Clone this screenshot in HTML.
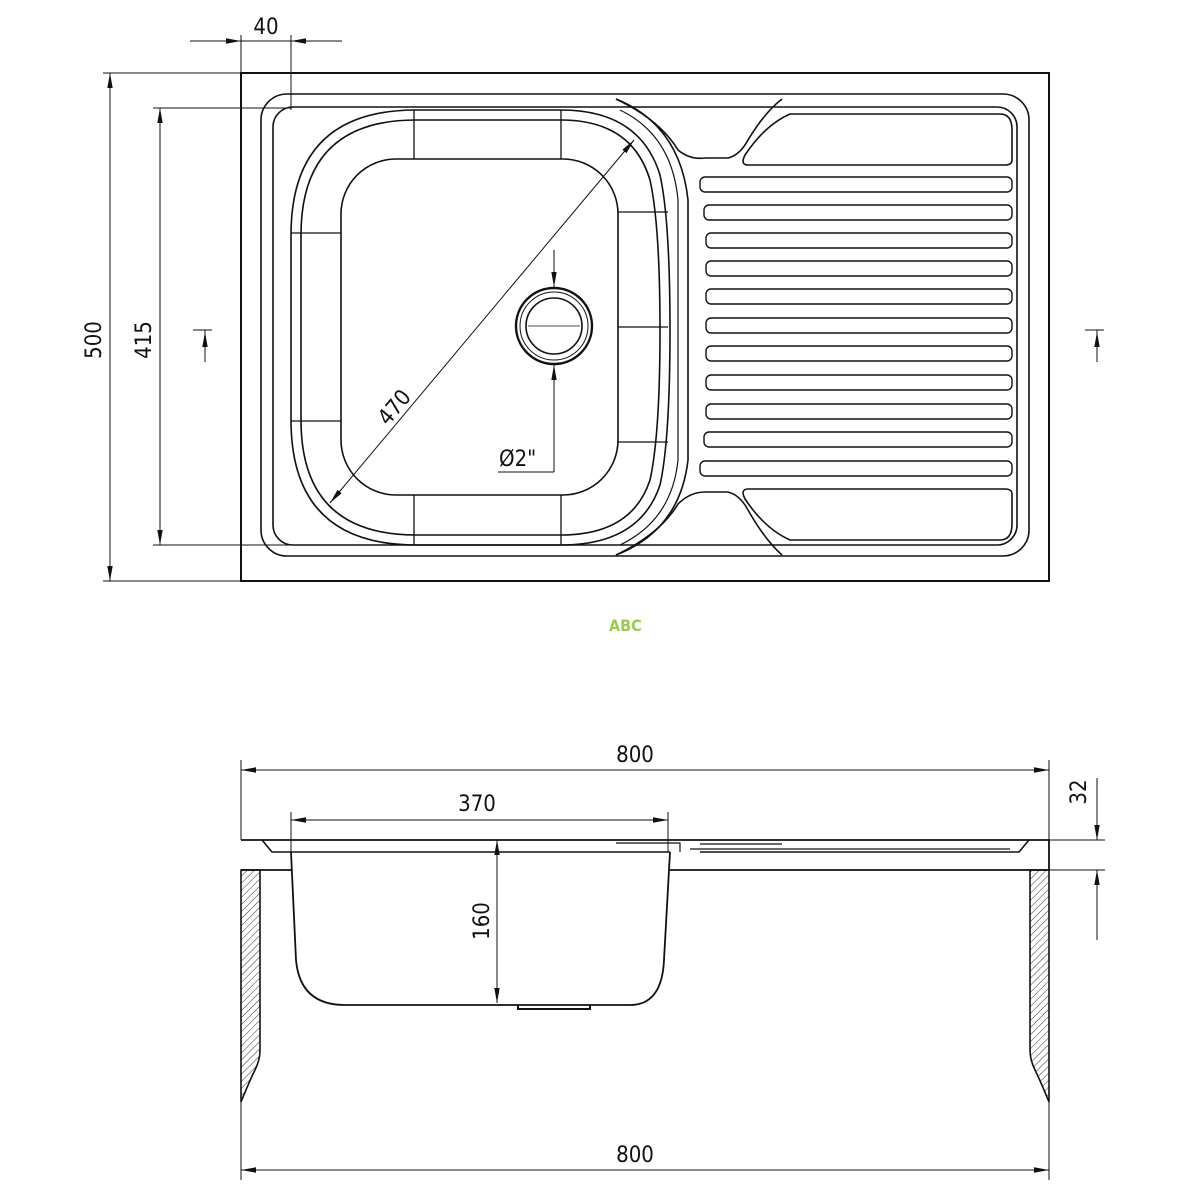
<!DOCTYPE html>
<html><head><meta charset="utf-8"><style>
html,body{margin:0;padding:0;background:#fff}
svg{display:block}
text{font-family:"DejaVu Sans Condensed","Liberation Sans",sans-serif;font-size:22px;fill:#111}
</style></head><body>
<svg width="1200" height="1200" viewBox="0 0 1200 1200" xmlns="http://www.w3.org/2000/svg">
<defs>
<marker id="a" viewBox="0 0 15 6" refX="15" refY="3" markerWidth="15" markerHeight="6" markerUnits="userSpaceOnUse" orient="auto-start-reverse"><path d="M0,0.3 L15,3 L0,5.7z" fill="#111"/></marker>
<pattern id="h" width="5" height="5" patternUnits="userSpaceOnUse" patternTransform="rotate(45)"><line x1="0" y1="0" x2="0" y2="5" stroke="#333" stroke-width="1"/></pattern>
</defs>
<g fill="none" stroke="#111" stroke-width="1.6">
<rect x="241" y="73" width="808" height="508" stroke-width="2"/>
<rect x="261" y="94" width="768" height="462" rx="26"/>
<rect x="273" y="107" width="744" height="438" rx="20"/>
<path d="M416,110 H561 Q640,110 660,175 Q670,220 670,330 Q670,440 660,485 Q640,545 561,545 H416 Q291,545 291,420 V235 Q291,110 416,110Z"/>
<path d="M416,120 H561 Q632,120 650,180 Q660,225 660,330 Q660,435 650,480 Q632,535 561,535 H416 Q301,535 301,420 V235 Q301,120 416,120Z"/>
<rect x="341" y="159" width="277" height="336" rx="55"/>
<path d="M414,110V159M561,110V159M414,495V545M561,495V545M291,233H341M291,421H341M618,212H668M618,327H668M618,442H668" stroke-width="1.3"/>
<path d="M616,99 Q680,125 688,200 V460 Q680,530 616,555"/>
<path d="M620,110 Q672,135 678,200 V460 Q672,520 620,545" stroke-width="1.2"/>
<path d="M616,99 Q660,120 678,150 Q690,160 705,158 H728 Q740,155 748,140 Q765,112 782,99"/>
<path d="M616,555 Q660,534 678,504 Q690,492 705,492 H728 Q740,495 748,510 Q765,540 782,555"/>
<path d="M790,114 H1000 Q1012,114 1012,130 V160 Q1012,165 1005,165 H748 Q740,165 745,155 Q765,125 790,114Z"/>
<path d="M790,540 H1000 Q1012,540 1012,524 V494 Q1012,489 1005,489 H748 Q740,489 745,499 Q765,529 790,540Z"/>
<g stroke-width="1.4">
<rect x="700" y="177" width="312" height="15" rx="5"/>
<rect x="704" y="205" width="308" height="15" rx="5"/>
<rect x="706" y="233" width="306" height="15" rx="5"/>
<rect x="706" y="261" width="306" height="15" rx="5"/>
<rect x="706" y="289" width="306" height="15" rx="5"/>
<rect x="706" y="318" width="306" height="15" rx="5"/>
<rect x="706" y="346" width="306" height="15" rx="5"/>
<rect x="706" y="375" width="306" height="15" rx="5"/>
<rect x="706" y="404" width="306" height="15" rx="5"/>
<rect x="704" y="432" width="308" height="15" rx="5"/>
<rect x="700" y="461" width="312" height="15" rx="5"/>
</g>
<circle cx="554" cy="326" r="38" stroke-width="2.4"/>
<circle cx="554" cy="326" r="34" stroke-width="1"/>
<circle cx="554" cy="326" r="28"/>
<path d="M528,326H580" stroke-width="0.8"/>
<g stroke-width="1">
<line x1="330" y1="503" x2="634" y2="140" marker-start="url(#a)" marker-end="url(#a)"/>
<line x1="554" y1="250" x2="554" y2="287" marker-end="url(#a)"/>
<line x1="554" y1="472" x2="554" y2="365" marker-end="url(#a)"/>
<line x1="498" y1="472" x2="554" y2="472"/>
<line x1="241" y1="35" x2="241" y2="73"/>
<line x1="291" y1="35" x2="291" y2="110"/>
<line x1="190" y1="41" x2="241" y2="41" marker-end="url(#a)"/>
<line x1="342" y1="41" x2="291" y2="41" marker-end="url(#a)"/>
<line x1="241" y1="41" x2="291" y2="41"/>
<line x1="103" y1="73" x2="241" y2="73"/>
<line x1="103" y1="581" x2="241" y2="581"/>
<line x1="110" y1="73" x2="110" y2="581" marker-start="url(#a)" marker-end="url(#a)"/>
<line x1="153" y1="108" x2="291" y2="108"/>
<line x1="153" y1="545" x2="291" y2="545"/>
<line x1="160" y1="108" x2="160" y2="545" marker-start="url(#a)" marker-end="url(#a)"/>
<path d="M193,330H212M205,330V362"/>
<line x1="205" y1="362" x2="205" y2="332" marker-end="url(#a)"/>
<path d="M1085,330H1104M1097,330V362"/>
<line x1="1097" y1="362" x2="1097" y2="332" marker-end="url(#a)"/>
</g>
<path d="M241,840 H1049 V870 H670 M291,870 H241 Z" stroke-width="1.8"/>
<path d="M262,840 L272,852 H670 M1029,840 L1019,852 H700"/>
<path d="M616,843 H680 V852 M700,844 H782 M690,849 H1010" stroke-width="1.2"/>
<path d="M291,852 L296,960 Q300,1005 345,1005 H630 Q662,1005 664,960 L670,852" stroke-width="1.8"/>
<path d="M518,1005 V1009 H590 V1005" stroke-width="2"/>
<path d="M241,870 V1102 Q250,1080 255,1070 Q260,1060 260,1050 V870Z" fill="url(#h)" stroke-width="1.6"/>
<path d="M1049,870 V1102 Q1040,1080 1035,1070 Q1030,1060 1030,1050 V870Z" fill="url(#h)" stroke-width="1.6"/>
<g stroke-width="1">
<line x1="241" y1="760" x2="241" y2="840"/>
<line x1="1049" y1="760" x2="1049" y2="840"/>
<line x1="241" y1="770" x2="1049" y2="770" marker-start="url(#a)" marker-end="url(#a)"/>
<line x1="291" y1="812" x2="291" y2="852"/>
<line x1="668" y1="812" x2="668" y2="852"/>
<line x1="291" y1="820" x2="668" y2="820" marker-start="url(#a)" marker-end="url(#a)"/>
<line x1="497" y1="840" x2="497" y2="1003" marker-start="url(#a)" marker-end="url(#a)"/>
<line x1="1049" y1="840" x2="1105" y2="840"/>
<line x1="1049" y1="870" x2="1105" y2="870"/>
<line x1="1097" y1="778" x2="1097" y2="840" marker-end="url(#a)"/>
<line x1="1097" y1="940" x2="1097" y2="870" marker-end="url(#a)"/>
<line x1="241" y1="1102" x2="241" y2="1180"/>
<line x1="1049" y1="1102" x2="1049" y2="1180"/>
<line x1="241" y1="1170" x2="1049" y2="1170" marker-start="url(#a)" marker-end="url(#a)"/>
</g>
</g>
<text x="266" y="34" text-anchor="middle">40</text>
<text transform="translate(101,340) rotate(-90)" text-anchor="middle">500</text>
<text transform="translate(151,340) rotate(-90)" text-anchor="middle">415</text>
<text transform="translate(400,412) rotate(-50)" text-anchor="middle">470</text>
<text x="499" y="466">Ø2"</text>
<text x="635" y="762" text-anchor="middle">800</text>
<text x="477" y="811" text-anchor="middle">370</text>
<text transform="translate(489,921) rotate(-90)" text-anchor="middle">160</text>
<text transform="translate(1086,792) rotate(-90)" text-anchor="middle">32</text>
<text x="635" y="1162" text-anchor="middle">800</text>
<text x="609" y="631" style="font-size:16px;font-weight:bold;fill:#9acd4a">ABC</text>
</svg>
</body></html>
